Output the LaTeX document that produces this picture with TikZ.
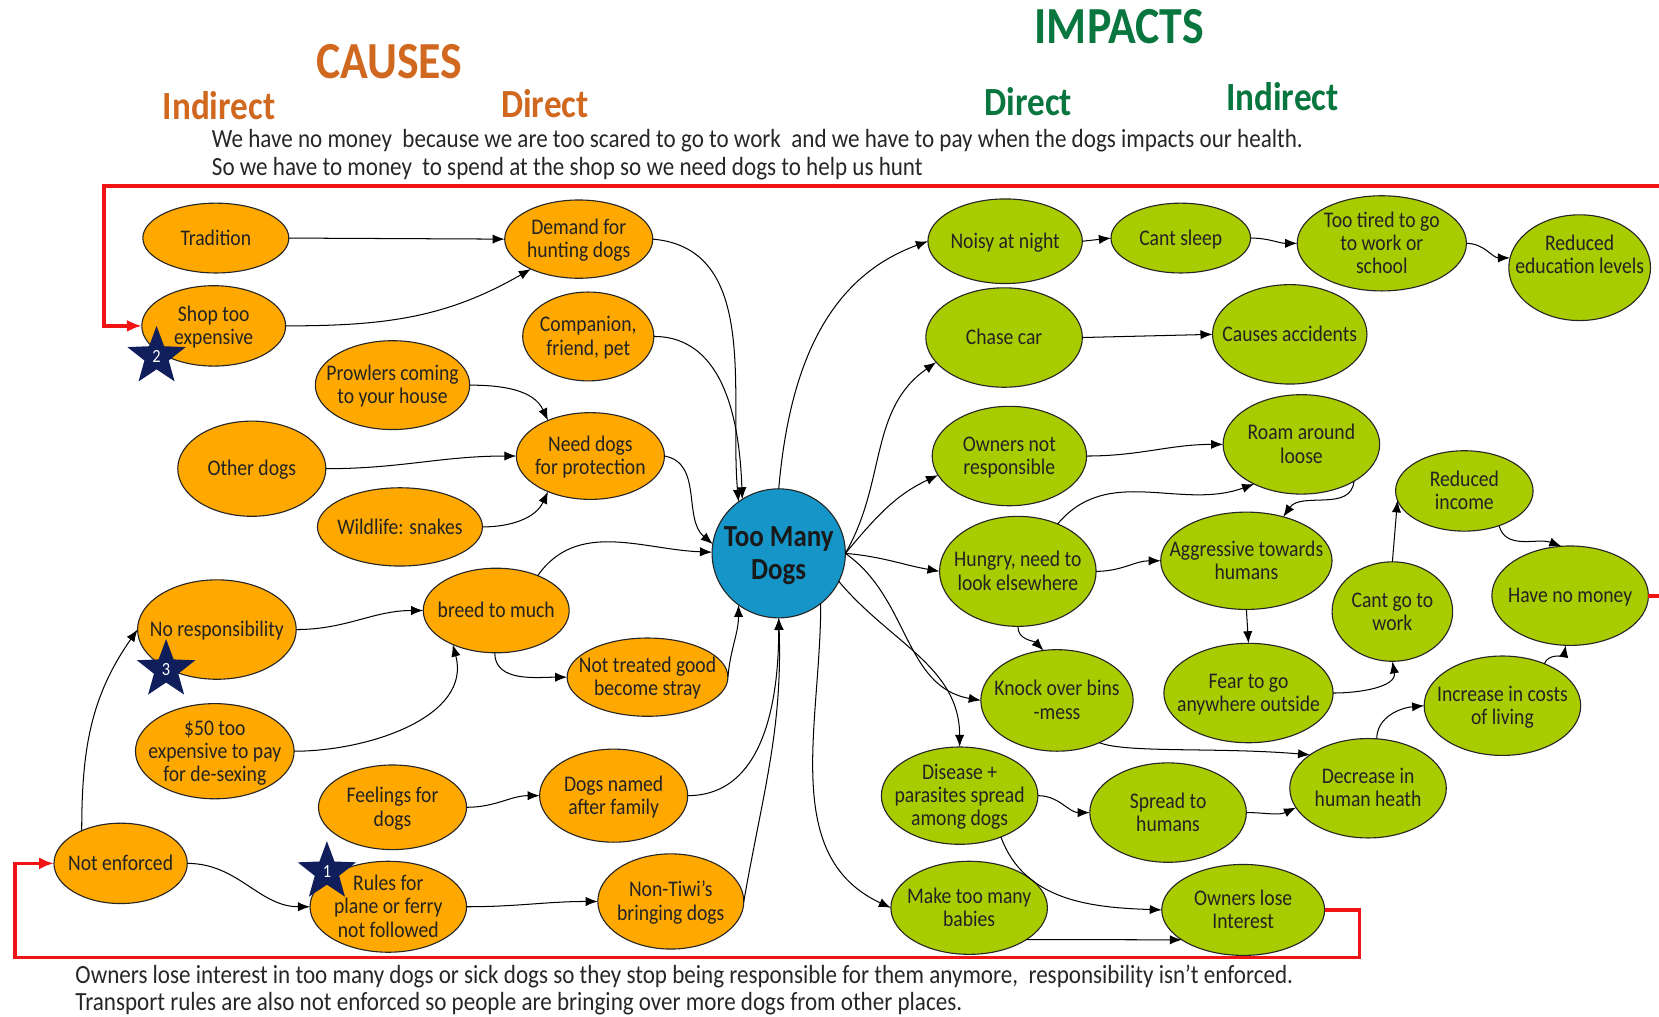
\documentclass[tikz,border=0pt]{standalone}
\usepackage{fontspec}
\setmainfont{Carlito}[FakeStretch=0.88]
\usetikzlibrary{shapes.geometric,arrows.meta}
\definecolor{corange}{RGB}{255,168,0}
\definecolor{cgreen}{RGB}{168,204,0}
\definecolor{cblue}{RGB}{22,150,200}
\definecolor{horange}{RGB}{208,104,32}
\definecolor{hgreen}{RGB}{8,118,62}
\definecolor{snavy}{RGB}{16,30,92}
\definecolor{txt}{RGB}{35,35,35}
\definecolor{lred}{RGB}{240,20,20}
\newcommand\zt[2][0pt]{\smash{\makebox[0pt][c]{\raisebox{\dimexpr#1-0.36em\relax}{\begin{tabular}[c]{@{}c@{}}#2\end{tabular}}}}}
\tikzset{
 base/.style={ellipse, draw=black!85, line width=0.6pt, inner sep=0pt, outer sep=0pt, text=txt, font=\fontsize{12}{12.5}\selectfont},
 cn/.style={base, fill=corange},
 gn/.style={base, fill=cgreen},
 sz/.style 2 args={minimum width=#1*0.04cm, minimum height=#2*0.04cm},
 arr/.style={-{Latex[length=6.5pt,width=5pt]}, line width=0.55pt, draw=black},
 redarr/.style={-{Latex[length=8pt,width=6.5pt]}, line width=2pt, draw=lred, line join=miter},
 snode/.style={star, star points=5, star point ratio=2.4, fill=snavy, draw=none, minimum size=58*0.02cm, inner sep=0pt, text=white, font=\fontsize{10}{11}\selectfont},
 head/.style={font=\fontsize{28}{30}\selectfont\bfseries, inner sep=0pt},
 subh/.style={font=\fontsize{21.5}{24}\selectfont\bfseries, inner sep=0pt},
 body/.style={font=\fontsize{14.1}{16}\selectfont, inner sep=0pt, anchor=west, text=black!85},
}
\begin{document}
\begin{tikzpicture}[x=0.02cm,y=0.02cm]
\useasboundingbox (0,0) rectangle (1568,-961);
% headings
\node[head, text=horange] (hcause) at (368,-58) {CAUSES};
\node[subh, text=horange] (hind1) at (207,-100) {Indirect};
\node[subh, text=horange] (hdir1) at (515,-98) {Direct};
\node[head, text=hgreen] (himp) at (1058,-25) {IMPACTS};
\node[subh, text=hgreen] (hdir2) at (972,-96) {Direct};
\node[subh, text=hgreen] (hind2) at (1212,-91) {Indirect};
\node[body] (t1) at (200,-133) {We have no money\ \ because we are too scared to go to work\ \ and we have to pay when the dogs impacts our health.};
\node[body] (t2) at (200,-159) {So we have to money\ \ to spend at the shop so we need dogs to help us hunt};
\node[body] (b1) at (71,-923) {Owners lose interest in too many dogs or sick dogs so they stop being responsible for them anymore,\ \ responsibility isn’t enforced.};
\node[body] (b2) at (71,-949) {Transport rules are also not enforced so people are bringing over more dogs from other places.};
% cause nodes
\node[cn, sz={69}{33}] (trad) at (204,-225) {\zt{Tradition}};
\node[cn, sz={68}{38}] (shop) at (202,-308) {\zt{Shop too\\expensive}};
\node[cn, sz={70}{37}] (dem) at (547,-226) {\zt{Demand for\\hunting dogs}};
\node[cn, sz={62}{42}] (comp) at (556,-318) {\zt{Companion,\\friend, pet}};
\node[cn, sz={73}{42}] (prow) at (371,-364) {\zt{Prowlers coming\\to your house}};
\node[cn, sz={70}{45}] (other) at (238,-443) {\zt{Other dogs}};
\node[cn, sz={70}{41}] (need) at (558,-431) {\zt{Need dogs\\for protection}};
\node[cn, sz={78}{37}] (wild) at (378,-498) {\zt{Wildlife: snakes}};
\node[cn, sz={75}{47}] (nores) at (205,-595) {\zt{No responsibility}};
\node[cn, sz={69}{40}] (breed) at (469,-577) {\zt{breed to much}};
\node[cn, sz={76}{37}] (stray) at (612,-640) {\zt{Not treated good\\become stray}};
\node[cn, sz={75}{45}] (fifty) at (203,-710) {\zt{\$50 too\\expensive to pay\\for de-sexing}};
\node[cn, sz={70}{40}] (feel) at (371,-763) {\zt{Feelings for\\dogs}};
\node[cn, sz={70}{44}] (named) at (580,-752) {\zt{Dogs named\\after family}};
\node[cn, sz={63}{38}] (notenf) at (114,-816) {\zt{Not enforced}};
\node[cn, sz={74}{43}] (rules) at (367,-857) {\zt{Rules for\\plane or ferry\\not followed}};
\node[cn, sz={69}{45}] (tiwi) at (634,-852) {\zt{Non-Tiwi’s\\bringing dogs}};
% centre
\node[base, fill=cblue, sz={63}{61}, font=\fontsize{16.5}{18}\selectfont\bfseries, text=black!90] (tmd) at (736,-523) {\zt{Too Many\\Dogs}};
% impact nodes
\node[gn, sz={73}{40}] (noisy) at (950,-228) {\zt{Noisy at night}};
\node[gn, sz={66}{33}] (cant) at (1116,-225) {\zt{Cant sleep}};
\node[gn, sz={80}{45}] (tired) at (1306,-230) {\zt{Too tired to go\\to work or\\school}};
\node[gn, sz={67}{50}] (edu) at (1493,-253) {\zt[7pt]{Reduced\\education levels}};
\node[gn, sz={74}{47}] (chase) at (949,-319) {\zt{Chase car}};
\node[gn, sz={73}{47}] (acc) at (1219,-316) {\zt{Causes accidents}};
\node[gn, sz={73}{47}] (ownnr) at (954,-431) {\zt{Owners not\\responsible}};
\node[gn, sz={74}{47}] (roam) at (1230,-420) {\zt{Roam around\\loose}};
\node[gn, sz={74}{52}] (hungry) at (962,-540) {\zt{Hungry, need to\\look elsewhere}};
\node[gn, sz={81}{46}] (aggr) at (1178,-530) {\zt{Aggressive towards\\humans}};
\node[gn, sz={65}{38}] (inc) at (1384,-464) {\zt{Reduced\\income}};
\node[gn, sz={57}{47}] (cango) at (1316,-578) {\zt{Cant go to\\work}};
\node[gn, sz={74}{47}] (money) at (1484,-563) {\zt{Have no money}};
\node[gn, sz={72}{48}] (knock) at (999,-662) {\zt{Knock over bins\\-mess}};
\node[gn, sz={80}{47}] (fear) at (1180,-655) {\zt{Fear to go\\anywhere outside}};
\node[gn, sz={74}{47}] (costs) at (1420,-667) {\zt{Increase in costs\\of living}};
\node[gn, sz={74}{46}] (dis) at (907,-752) {\zt{Disease +\\parasites spread\\among dogs}};
\node[gn, sz={74}{47}] (spread) at (1104,-768) {\zt{Spread to\\humans}};
\node[gn, sz={74}{47}] (decr) at (1293,-745) {\zt{Decrease in\\human heath}};
\node[gn, sz={74}{44}] (babies) at (916,-858) {\zt{Make too many\\babies}};
\node[gn, sz={77}{43}] (lose) at (1175,-860) {\zt{Owners lose\\Interest}};
% cause edges
\draw[arr] (trad.east) -- (dem.west);
\draw[arr] (shop.east) to[out=0,in=210] (dem.212);
\draw[arr] (dem.east) to[out=-5,in=95] (tmd.128);
\draw[arr] (comp.east) to[out=0,in=92] (tmd.124);
\draw[arr] (prow.east) to[out=0,in=115] (need.140);
\draw[arr] (other.east) to[out=0,in=180] (need.west);
\draw[arr] (wild.east) to[out=0,in=245] (need.220);
\draw[arr] (need.east) to[out=-10,in=140] (tmd.172);
\draw[arr] (breed.40) to[out=55,in=178] (tmd.179);
\draw[arr] (nores.east) to[out=0,in=180] (breed.west);
\draw[arr] (breed.268) to[out=-90,in=180] (stray.west);
\draw[arr] (stray.east) to[out=85,in=-90] (tmd.232);
\draw[arr] (fifty.east) to[out=0,in=-75] (breed.218);
\draw[arr] (feel.east) to[out=0,in=180] (named.west);
\draw[arr] (named.east) to[out=0,in=-90] (tmd.south);
\draw[arr] (rules.east) to[out=0,in=180] (tiwi.west);
\draw[arr] (tiwi.east) to[out=80,in=-88] (tmd.south);
\draw[arr] (notenf.140) to[out=90,in=235] (nores.west);
\draw[arr] (notenf.east) to[out=0,in=180] (rules.west);
% impact edges
\draw[arr] (tmd.north) to[out=85,in=200] (noisy.west);
\draw[arr] (noisy.east) -- (cant.west);
\draw[arr] (cant.east) to[out=0,in=180] (tired.west);
\draw[arr] (tired.east) to[out=0,in=180] (edu.172);
\draw[arr] (tmd.east) to[out=60,in=215] (chase.200);
\draw[arr] (chase.east) -- (acc.west);
\draw[arr] (tmd.east) to[out=50,in=205] (ownnr.195);
\draw[arr] (ownnr.east) to[out=0,in=180] (roam.west);
\draw[arr] (tmd.east) to[out=-5,in=170] (hungry.west);
\draw[arr] (hungry.50) to[out=50,in=200] (roam.220);
\draw[arr] (hungry.east) to[out=0,in=180] (aggr.west);
\draw[arr] (roam.-35) to[out=-95,in=55] (aggr.50);
\draw[arr] (hungry.south) to[out=-90,in=135] (knock.105);
\draw[arr] (tmd.east) to[out=-35,in=170] (knock.west);
\draw[arr] (tmd.-25) to[out=-50,in=90] (dis.north);
\draw[arr] (tmd.-50) to[out=-90,in=155] (babies.west);
\draw[arr] (aggr.south) -- (fear.north);
\draw[arr] (fear.east) to[out=0,in=-80] (cango.south);
\draw[arr] (cango.north) -- (inc.188);
\draw[arr] (inc.-45) to[out=-75,in=160] (money.100);
\draw[arr] (knock.-45) .. controls (1065,-712) and (1150,-706) .. (decr.150);
\draw[arr] (dis.east) to[out=0,in=180] (spread.west);
\draw[arr] (spread.east) to[out=0,in=205] (decr.195);
\draw[arr] (decr.80) to[out=90,in=185] (costs.west);
\draw[arr] (costs.45) to[out=70,in=-100] (money.-95);
\draw[arr] (dis.-45) to[out=-70,in=178] (lose.west);
\draw[arr] (babies.-29) -- (lose.206);
% red feedback loops
\coordinate (rb1) at (1285,-905);
\coordinate (rb2) at (14,-905);
\draw[redarr] (lose.east) -| (rb1) -- (rb2) |- (notenf.west);
\coordinate (rt1) at (1600,-563);
\coordinate (rt2) at (1600,-176);
\coordinate (rt3) at (98,-176);
\draw[redarr] (money.east) -- (rt1) -- (rt2) -- (rt3) |- (shop.west);
% stars
\node[snode] (st2) at (148,-337) {2};
\node[snode] (st3) at (157,-633) {3};
\node[snode] (st1) at (309,-824) {1};
\end{tikzpicture}
\end{document}
